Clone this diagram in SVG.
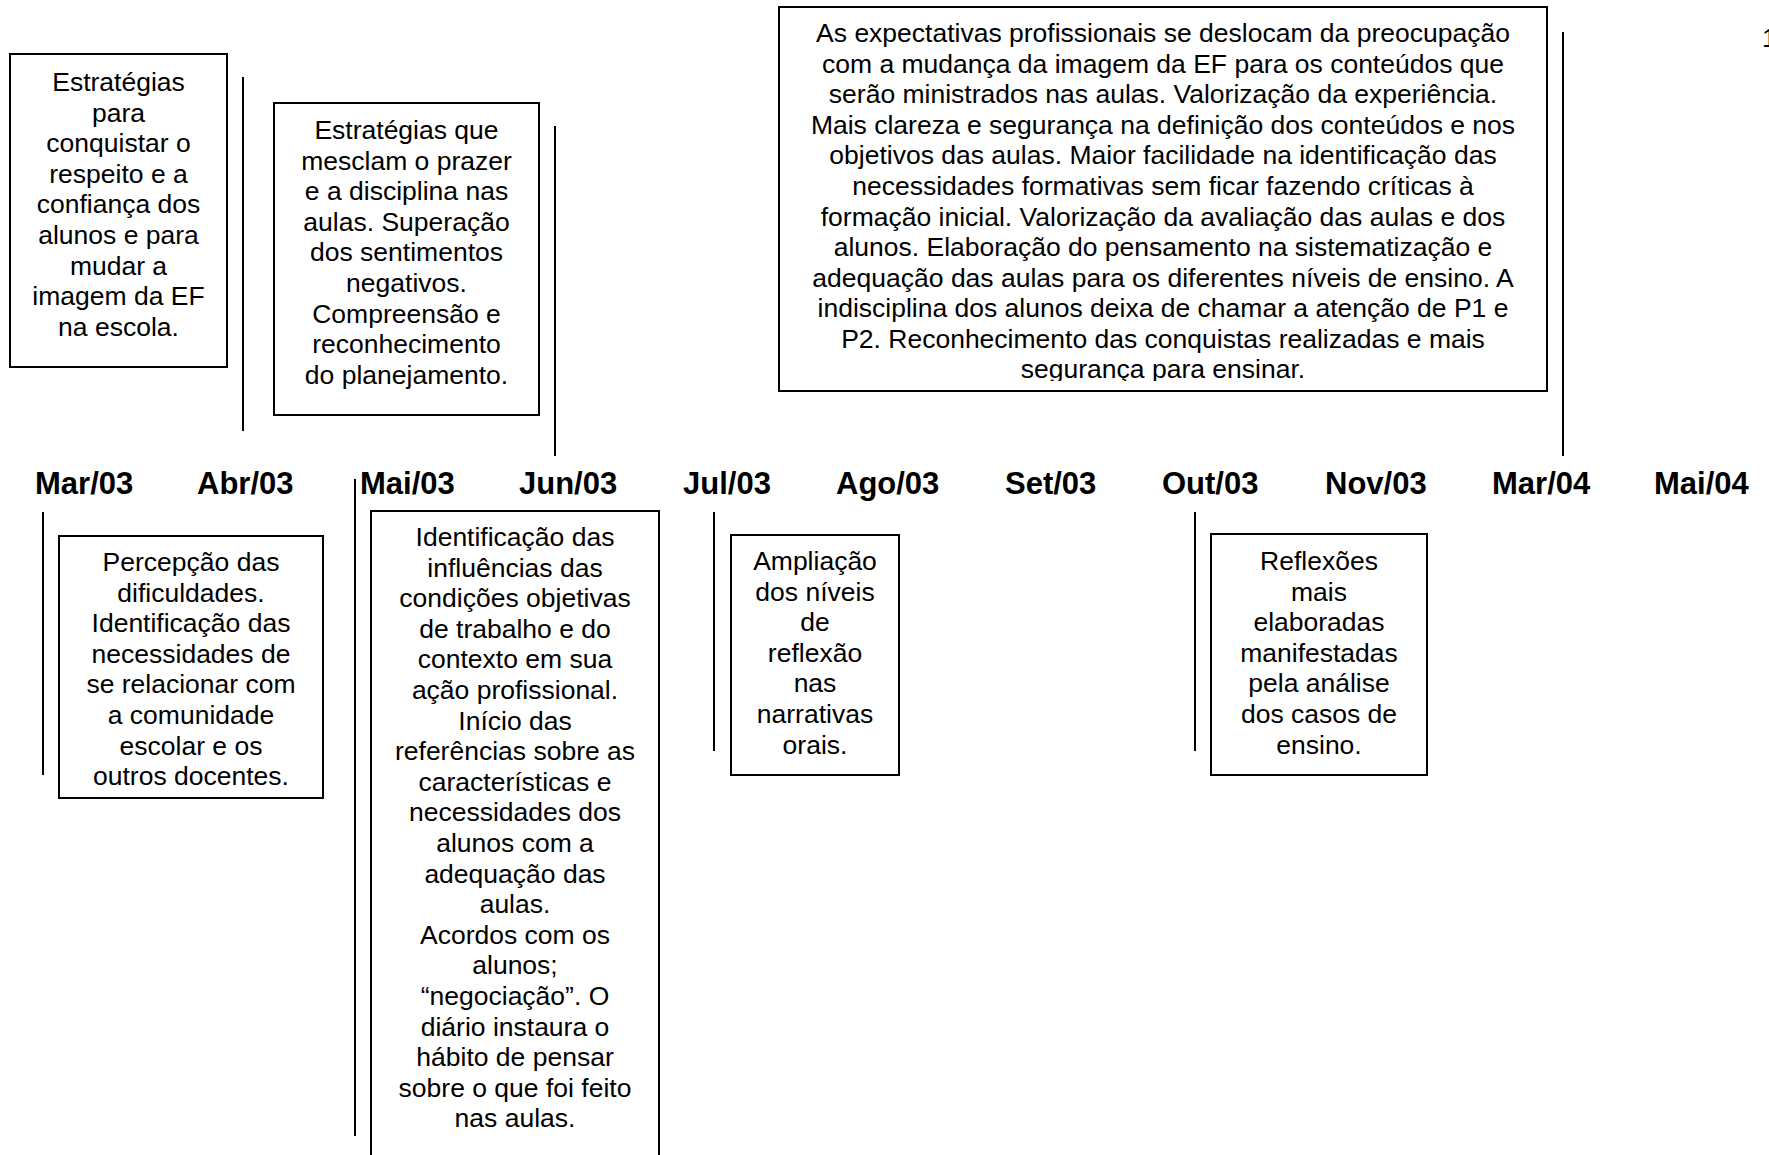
<svg xmlns="http://www.w3.org/2000/svg" width="1769" height="1155" viewBox="0 0 1769 1155">
<style>
.box{fill:#fff;stroke:#000;stroke-width:2}
.ln{stroke:#000;stroke-width:2;fill:none}
.t{font-family:"Liberation Sans",Arial,sans-serif;font-size:26.5px;fill:#000;text-anchor:middle}
.lab{font-family:"Liberation Sans",Arial,sans-serif;font-size:31px;font-weight:bold;fill:#000}
.pg{font-family:"Liberation Sans",Arial,sans-serif;font-size:26.5px;fill:#000}
</style>
<defs>
<clipPath id="bigclip"><rect x="779" y="7" width="768" height="374"/></clipPath>
</defs>
<rect width="1769" height="1155" fill="#fff"/>
<text class="pg" x="1762" y="47">1</text>

<g id="connectors">
<line class="ln" x1="243" y1="77" x2="243" y2="431"/>
<line class="ln" x1="555" y1="126" x2="555" y2="456"/>
<line class="ln" x1="1563" y1="32" x2="1563" y2="456"/>
<line class="ln" x1="43" y1="512" x2="43" y2="775"/>
<line class="ln" x1="355" y1="479" x2="355" y2="1136"/>
<line class="ln" x1="714" y1="512" x2="714" y2="751"/>
<line class="ln" x1="1195" y1="512" x2="1195" y2="751"/>
</g>

<g id="timeline">
<text class="lab" x="35" y="494">Mar/03</text>
<text class="lab" x="197" y="494">Abr/03</text>
<text class="lab" x="360" y="494">Mai/03</text>
<text class="lab" x="519" y="494">Jun/03</text>
<text class="lab" x="683" y="494">Jul/03</text>
<text class="lab" x="836" y="494">Ago/03</text>
<text class="lab" x="1005" y="494">Set/03</text>
<text class="lab" x="1162" y="494">Out/03</text>
<text class="lab" x="1325" y="494">Nov/03</text>
<text class="lab" x="1492" y="494">Mar/04</text>
<text class="lab" x="1654" y="494">Mai/04</text>
</g>

<g id="box-mar03-top">
<rect class="box" x="10" y="54" width="217" height="313"/>
<text class="t" x="118.5" y="91">Estratégias</text>
<text class="t" x="118.5" y="121.6">para</text>
<text class="t" x="118.5" y="152.2">conquistar o</text>
<text class="t" x="118.5" y="182.8">respeito e a</text>
<text class="t" x="118.5" y="213.4">confiança dos</text>
<text class="t" x="118.5" y="244">alunos e para</text>
<text class="t" x="118.5" y="274.6">mudar a</text>
<text class="t" x="118.5" y="305.2">imagem da EF</text>
<text class="t" x="118.5" y="335.8">na escola.</text>
</g>

<g id="box-abr03-top">
<rect class="box" x="274" y="103" width="265" height="312"/>
<text class="t" x="406.5" y="139">Estratégias que</text>
<text class="t" x="406.5" y="169.6">mesclam o prazer</text>
<text class="t" x="406.5" y="200.2">e a disciplina nas</text>
<text class="t" x="406.5" y="230.8">aulas. Superação</text>
<text class="t" x="406.5" y="261.4">dos sentimentos</text>
<text class="t" x="406.5" y="292">negativos.</text>
<text class="t" x="406.5" y="322.6">Compreensão e</text>
<text class="t" x="406.5" y="353.2">reconhecimento</text>
<text class="t" x="406.5" y="383.8">do planejamento.</text>
</g>

<g id="box-mar04-top">
<rect class="box" x="779" y="7" width="768" height="384"/>
<g clip-path="url(#bigclip)">
<text class="t" x="1163" y="42">As expectativas profissionais se deslocam da preocupação</text>
<text class="t" x="1163" y="72.6">com a mudança da imagem da EF para os conteúdos que</text>
<text class="t" x="1163" y="103.2">serão ministrados nas aulas. Valorização da experiência.</text>
<text class="t" x="1163" y="133.8">Mais clareza e segurança na definição dos conteúdos e nos</text>
<text class="t" x="1163" y="164.4">objetivos das aulas. Maior facilidade na identificação das</text>
<text class="t" x="1163" y="195">necessidades formativas sem ficar fazendo críticas à</text>
<text class="t" x="1163" y="225.6">formação inicial. Valorização da avaliação das aulas e dos</text>
<text class="t" x="1163" y="256.2">alunos. Elaboração do pensamento na sistematização e</text>
<text class="t" x="1163" y="286.8">adequação das aulas para os diferentes níveis de ensino. A</text>
<text class="t" x="1163" y="317.4">indisciplina dos alunos deixa de chamar a atenção de P1 e</text>
<text class="t" x="1163" y="348">P2. Reconhecimento das conquistas realizadas e mais</text>
<text class="t" x="1163" y="378">segurança para ensinar.</text>
</g>
</g>

<g id="box-mar03-bottom">
<rect class="box" x="59" y="536" width="264" height="262"/>
<text class="t" x="191" y="571">Percepção das</text>
<text class="t" x="191" y="601.6">dificuldades.</text>
<text class="t" x="191" y="632.2">Identificação das</text>
<text class="t" x="191" y="662.8">necessidades de</text>
<text class="t" x="191" y="693.4">se relacionar com</text>
<text class="t" x="191" y="724">a comunidade</text>
<text class="t" x="191" y="754.6">escolar e os</text>
<text class="t" x="191" y="785.2">outros docentes.</text>
</g>

<g id="box-mai03-bottom">
<rect class="box" x="371" y="511" width="288" height="660"/>
<text class="t" x="515" y="546">Identificação das</text>
<text class="t" x="515" y="576.6">influências das</text>
<text class="t" x="515" y="607.2">condições objetivas</text>
<text class="t" x="515" y="637.8">de trabalho e do</text>
<text class="t" x="515" y="668.4">contexto em sua</text>
<text class="t" x="515" y="699">ação profissional.</text>
<text class="t" x="515" y="729.6">Início das</text>
<text class="t" x="515" y="760.2">referências sobre as</text>
<text class="t" x="515" y="790.8">características e</text>
<text class="t" x="515" y="821.4">necessidades dos</text>
<text class="t" x="515" y="852">alunos com a</text>
<text class="t" x="515" y="882.6">adequação das</text>
<text class="t" x="515" y="913.2">aulas.</text>
<text class="t" x="515" y="943.8">Acordos com os</text>
<text class="t" x="515" y="974.4">alunos;</text>
<text class="t" x="515" y="1005">“negociação”. O</text>
<text class="t" x="515" y="1035.6">diário instaura o</text>
<text class="t" x="515" y="1066.2">hábito de pensar</text>
<text class="t" x="515" y="1096.8">sobre o que foi feito</text>
<text class="t" x="515" y="1127.4">nas aulas.</text>
</g>

<g id="box-jul03-bottom">
<rect class="box" x="731" y="535" width="168" height="240"/>
<text class="t" x="815" y="570">Ampliação</text>
<text class="t" x="815" y="600.6">dos níveis</text>
<text class="t" x="815" y="631.2">de</text>
<text class="t" x="815" y="661.8">reflexão</text>
<text class="t" x="815" y="692.4">nas</text>
<text class="t" x="815" y="723">narrativas</text>
<text class="t" x="815" y="753.6">orais.</text>
</g>

<g id="box-out03-bottom">
<rect class="box" x="1211" y="534" width="216" height="241"/>
<text class="t" x="1319" y="570">Reflexões</text>
<text class="t" x="1319" y="600.6">mais</text>
<text class="t" x="1319" y="631.2">elaboradas</text>
<text class="t" x="1319" y="661.8">manifestadas</text>
<text class="t" x="1319" y="692.4">pela análise</text>
<text class="t" x="1319" y="723">dos casos de</text>
<text class="t" x="1319" y="753.6">ensino.</text>
</g>
</svg>
